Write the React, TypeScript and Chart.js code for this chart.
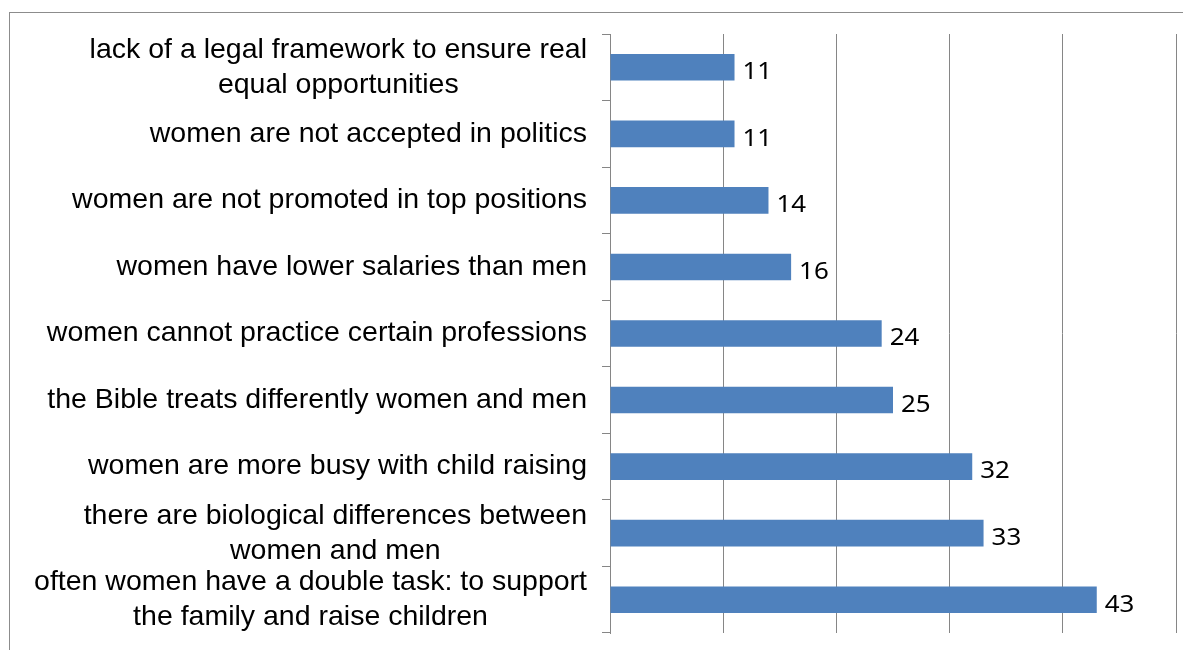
import React, { useEffect, useRef } from "react";
import { Chart, registerables } from "chart.js";

Chart.register(...registerables);

const categories: string[][] = [
  ["lack of a legal framework to ensure real", "equal opportunities"],
  ["women are not accepted in politics"],
  ["women are not promoted in top positions"],
  ["women have lower salaries than men"],
  ["women cannot practice certain professions"],
  ["the Bible treats differently women and men"],
  ["women are more busy with child raising"],
  ["there are biological differences between", "women and men"],
  ["often women have a double task: to support", "the family and raise children"],
];

const values: number[] = [11, 11, 14, 16, 24, 25, 32, 33, 43];

const xMin = 0;
const xMax = 50;
const xStep = 10;

const barColor = "#4F81BD";
const gridColor = "#868686";

const labelPlugin = {
  id: "customLabels",
  afterDraw(chart: any) {
    const ctx = chart.ctx;
    const yScale = chart.scales.y;
    ctx.save();
    // outer frame
    ctx.strokeStyle = "#8c8c8c";
    ctx.lineWidth = 1;
    ctx.strokeRect(9.5, 12.5, 1300, 800);

    // category labels: block right-aligned to the axis, lines centred
    ctx.fillStyle = "#000";
    ctx.font = '28.5px "Liberation Sans", Arial, sans-serif';
    ctx.textBaseline = "middle";
    ctx.textAlign = "center";
    const rightX = 587;
    const lineH = 35;
    categories.forEach((lines, i) => {
      const cy = yScale.getPixelForValue(i);
      const maxW = Math.max(...lines.map((l) => ctx.measureText(l).width));
      const cx = rightX - maxW / 2;
      const n = lines.length;
      lines.forEach((l, j) => {
        const y = cy + (j - (n - 1) / 2) * lineH;
        ctx.fillText(l, cx, y);
      });
    });

    // data labels
    ctx.font = '24px "Noto Sans", "Open Sans", sans-serif';
    ctx.textAlign = "left";
    const meta = chart.getDatasetMeta(0);
    meta.data.forEach((bar: any, i: number) => {
      ctx.save();
      ctx.translate(bar.x + 8, bar.y + 5);
      ctx.scale(1.08, 1);
      ctx.fillText(String(values[i]), 0, 0);
      ctx.restore();
    });
    ctx.restore();
  },
};

export default function App() {
  const ref = useRef<HTMLCanvasElement | null>(null);
  useEffect(() => {
    if (!ref.current) return;
    const chart = new Chart(ref.current, {
      type: "bar",
      data: {
        labels: categories.map((c) => c.join(" ")),
        datasets: [
          {
            data: values,
            backgroundColor: barColor,
            borderWidth: 0,
            barPercentage: 0.8,
            categoryPercentage: 0.5,
          },
        ],
      },
      options: {
        indexAxis: "y",
        animation: false,
        responsive: true,
        maintainAspectRatio: false,
        layout: { padding: { top: 34, right: 7, bottom: 17, left: 0 } },
        plugins: {
          legend: { display: false },
          tooltip: { enabled: false },
          title: { display: false },
        },
        scales: {
          x: {
            min: xMin,
            max: xMax,
            ticks: { stepSize: xStep, display: false },
            grid: { color: gridColor, drawTicks: false, lineWidth: 1 },
            border: { display: false },
            afterFit: (s: any) => {
              s.height = 0;
            },
          },
          y: {
            type: "category",
            ticks: { display: false },
            grid: {
              offset: true,
              drawOnChartArea: false,
              drawTicks: true,
              tickLength: 8,
              color: gridColor,
            },
            border: { display: true, color: gridColor },
            afterFit: (s: any) => {
              s.width = 610;
            },
          },
        },
      },
      plugins: [labelPlugin],
    } as any);
    return () => chart.destroy();
  }, []);
  return (
    <div
      style={{
        position: "absolute",
        left: 0,
        top: 0,
        width: 1183,
        height: 650,
        background: "#fff",
      }}
    >
      <canvas ref={ref} />
    </div>
  );
}
